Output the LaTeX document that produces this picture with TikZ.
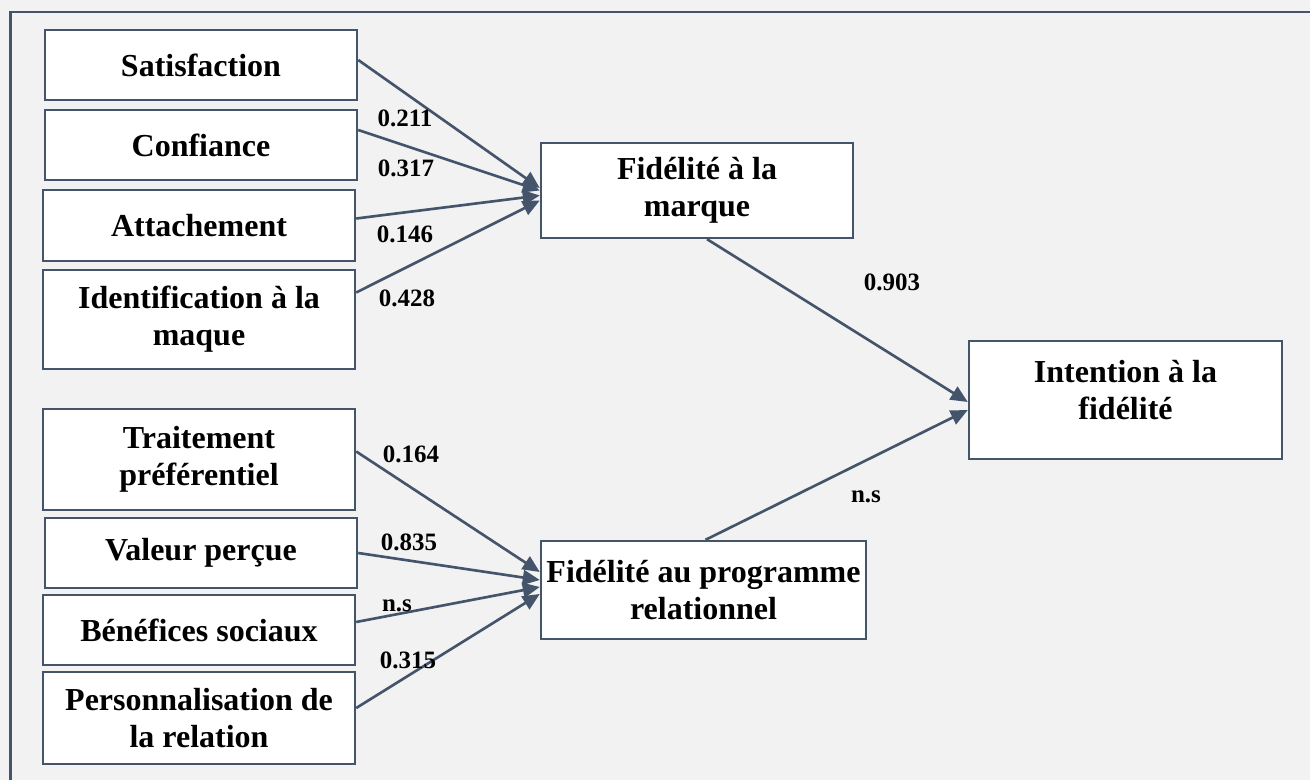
\documentclass[tikz,border=0pt]{standalone}
\usepackage{fontspec}
\setmainfont{Liberation Serif}
\usepackage{xcolor}
\usepackage{tikz}
\usetikzlibrary{arrows.meta,calc}
\definecolor{TRAITgris}{HTML}{44546A}
\definecolor{FONDgris}{HTML}{F2F2F2}

\begin{document}
\begin{tikzpicture}[x=0.01cm,y=-0.01cm,
    boite/.style={draw=TRAITgris,fill=white,line width=0.65pt,inner sep=0pt,
      align=center,font=\fontsize{9.1}{10.5}\selectfont\bfseries},
    coef/.style={anchor=base,inner sep=0pt,font=\fontsize{7.1}{8.4}\selectfont\bfseries},
    fleche/.style={draw=TRAITgris,line width=0.75pt,
      -{Triangle[length=0.17cm,width=0.15cm]}}]
        \useasboundingbox (0,0) rectangle (1310,780);
        \clip (0,0) rectangle (1310,780);
        \fill[FONDgris] (0,0) rectangle (1310,780);
        \draw[TRAITgris,line width=0.65pt] (10.5,12) rectangle (1340,800);
        % antecedents de la marque
        \node[boite,minimum width=3.12cm,minimum height=0.70cm] (sat) at (201,65) {Satisfaction};
        \node[boite,minimum width=3.12cm,minimum height=0.70cm] (conf) at (201,145) {Confiance};
        \node[boite,minimum width=3.12cm,minimum height=0.71cm] (att) at (199,225.5) {Attachement};
        \node[boite,minimum width=3.12cm,minimum height=0.99cm] (ident) at (199,319.5) {Identification à la\\maque};
        % antecedents du programme
        \node[boite,minimum width=3.12cm,minimum height=1.01cm] (trait) at (199,459.5) {Traitement\\préférentiel};
        \node[boite,minimum width=3.12cm,minimum height=0.70cm] (val) at (201,553) {Valeur perçue};
        \node[boite,minimum width=3.12cm,minimum height=0.70cm] (ben) at (199,630) {Bénéfices sociaux};
        \node[boite,minimum width=3.12cm,minimum height=0.92cm] (pers) at (199,718) {Personnalisation de\\la relation};
        % construits
        \node[boite,minimum width=3.12cm,minimum height=0.95cm] (fm) at (697,190.5) {Fidélité à la\\marque};
        \node[boite,minimum width=3.25cm,minimum height=0.98cm] (fp) at (703.5,590) {Fidélité au programme\\relationnel};
        \node[boite,minimum width=3.13cm,minimum height=1.18cm,text depth=0.2cm] (intent) at (1125.5,400) {Intention à la\\fidélité};
        % liens
        \draw[fleche] ($(sat.east)+(0,-5)$) -- ($(fm.west)+(0,-2.5)$);
        \draw[fleche] ($(conf.east)+(0,-15)$) -- ($(fm.west)+(0,0)$);
        \draw[fleche] ($(att.east)+(0,-7)$) -- ($(fm.west)+(0,5)$);
        \draw[fleche] ($(ident.east)+(0,-27)$) -- ($(fm.west)+(0,10)$);
        \draw[fleche] ($(trait.east)+(0,-8)$) -- ($(fp.west)+(0,-18)$);
        \draw[fleche] (val.east) -- ($(fp.west)+(0,-10)$);
        \draw[fleche] ($(ben.east)+(0,-8)$) -- ($(fp.west)+(0,-3)$);
        \draw[fleche] ($(pers.east)+(0,-10)$) -- ($(fp.west)+(0,4)$);
        \draw[fleche] ($(fm.south)+(10,0)$) -- ($(intent.west)+(0,2)$);
        \draw[fleche] ($(fp.north)+(2,0)$) -- ($(intent.west)+(0,10)$);
        % coefficients
        \node[coef] (c1) at (405,127) {0.211};
        \node[coef] (c2) at (406,177) {0.317};
        \node[coef] (c3) at (405,243) {0.146};
        \node[coef] (c4) at (407,307) {0.428};
        \node[coef] (c5) at (411,463) {0.164};
        \node[coef] (c6) at (409,551) {0.835};
        \node[coef] (c7) at (397,612) {n.s};
        \node[coef] (c8) at (408,669) {0.315};
        \node[coef] (c9) at (892,291) {0.903};
        \node[coef] (c10) at (866,503) {n.s};
      \end{tikzpicture}
\end{document}
